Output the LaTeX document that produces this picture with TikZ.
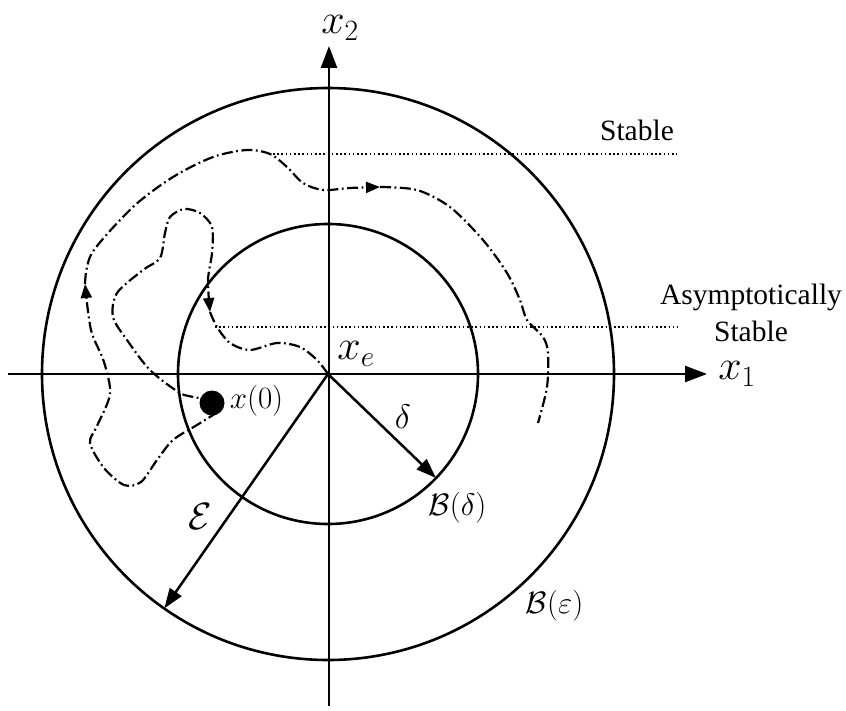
\RequirePackage{fix-cm}
\documentclass[tikz,border=0pt]{standalone}
\usepackage{fontspec}
\newfontfamily\lblfont{Liberation Serif}
\usetikzlibrary{arrows.meta}
\begin{document}
\begin{tikzpicture}[x=1pt,y=-1pt,
  axis/.style={line width=2.5pt},
  ball/.style={line width=2.6pt},
  traj/.style={line width=2.2pt, dash pattern=on 11pt off 3.5pt on 1.8pt off 3.5pt},
  guide/.style={line width=1.8pt, dash pattern=on 1.6pt off 2.6pt},
  mlabel/.style={inner sep=0pt, font=\fontsize{31}{36}\selectfont},
  biglabel/.style={inner sep=0pt, font=\fontsize{42}{48}\selectfont},
  txt/.style={inner sep=0pt, align=center, font=\lblfont\fontsize{29.5}{37}\selectfont},
  ttip/.style={-{Triangle[length=14pt,width=11pt]}},
  atip/.style={-{Triangle[length=22pt,width=16pt]}},
  rtip/.style={-{Triangle[length=20pt,width=14pt]}}
]
\useasboundingbox (0,0) rectangle (846,711);
% named points
\coordinate (O) at (328,374);
\coordinate (xl) at (8,374);
\coordinate (xr) at (707,374);
\coordinate (yb) at (329,706);
\coordinate (yt) at (329,46);
\coordinate (Etip) at (164.3,608.4);
\coordinate (Dtip) at (436,478);
\coordinate (s1) at (273,154);
\coordinate (s2) at (677,154);
\coordinate (a1) at (215,327);
\coordinate (a2) at (678,327);
% circles
\draw[ball] (O) circle[radius=286pt];
\draw[ball] (O) circle[radius=150pt];
% axes
\draw[axis, atip] (xl) -- (xr);
\draw[axis, atip] (yb) -- (yt);
% guide lines
\draw[guide] (s1) -- (s2);
\draw[guide] (a1) -- (a2);
% radius arrows
\draw[axis, rtip] (O) -- (Etip);
\draw[axis, rtip] (O) -- (Dtip);
% stable trajectory
\draw[traj, ttip] plot[smooth] coordinates {(218,412) (197,425) (173,440) (157,460) (141,482) (124,485) (104,468) (90,443) (97,426) (110,394) (104,362) (91,330) (85,284)};
\draw[traj, ttip] plot[smooth] coordinates {(85,284) (92,253) (133,207) (173,177) (213,157) (247,150) (270,154) (287,167) (303,183) (323,190) (350,188) (380,187)};
\draw[traj] plot[smooth] coordinates {(380,187) (417,190) (450,207) (483,240) (507,273) (520,300) (527,320) (543,337) (548,353) (547,387) (538,423)};
% asymptotically stable trajectory
\draw[traj, ttip] plot[smooth] coordinates {(212,403) (199,398) (180,393) (150,370) (127,340) (113,317) (117,293) (143,270) (160,258) (165,233) (170,217) (184,209) (200,213) (212,227) (212,253) (208,280) (210,312)};
\draw[traj] plot[smooth] coordinates {(210,312) (217,327) (230,343) (250,350) (277,343) (300,347) (317,360) (O)};
% initial state
\node[circle, fill, inner sep=0pt, minimum size=25pt] (x0) at (212,403) {};
% labels
\node[biglabel] (lx2) at (340,28) {$x_2$};
\node[biglabel] (lx1) at (737,374) {$x_1$};
\node[biglabel] (lxe) at (356,354) {$x_e$};
\node[mlabel] (lx0) at (256.5,401) {$x(0)$};
\node[mlabel, font=\fontsize{34}{40}\selectfont] (ld) at (403,417) {$\delta$};
\node[mlabel, font=\fontsize{38}{44}\selectfont] (le) at (200,517) {$\mathcal{E}$};
\node[mlabel] (lBd) at (457.5,507.5) {$\mathcal{B}(\delta)$};
\node[mlabel] (lBe) at (554.5,606) {$\mathcal{B}(\varepsilon)$};
\node[txt] (tst) at (637,130) {Stable};
\node[txt] (tas) at (751,313) {Asymptotically\\Stable};
\end{tikzpicture}
\end{document}
